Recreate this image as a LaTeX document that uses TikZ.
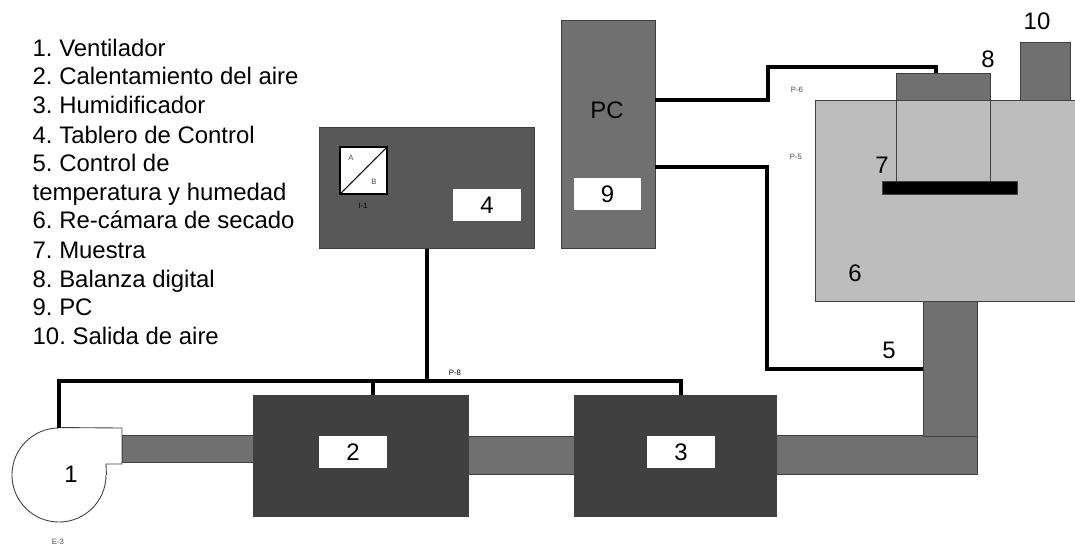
\documentclass[tikz,border=0pt]{standalone}
\usepackage{fontspec}
\setmainfont{Liberation Sans}
\frenchspacing
\usetikzlibrary{calc,positioning}
\tikzset{
  panel/.style={draw=black!75,line width=0.25pt,inner sep=0pt,anchor=north west},
  tag/.style={fill=white,inner sep=0pt,minimum width=0.67cm,minimum height=0.32cm,font=\fontsize{6.8}{8}\selectfont},
  num/.style={inner sep=0pt,font=\fontsize{6.8}{8}\selectfont},
  tiny/.style={inner sep=0pt,text=black!70,font=\fontsize{2.2}{3}\selectfont},
  wire/.style={line width=1pt,line join=miter},
  thin line/.style={draw=black!75,line width=0.25pt}
}
\definecolor{duct}{gray}{0.44}
\definecolor{heater}{gray}{0.25}
\definecolor{board}{gray}{0.345}
\definecolor{chamber}{gray}{0.74}
\begin{document}
\begin{tikzpicture}[x=0.01cm,y=-0.01cm]
  \useasboundingbox (0,0) rectangle (1075,548);
  % legend
  \foreach \y/\name in {56/1. Ventilador, 84/2. Calentamiento del aire, 113/3. Humidificador,
      143/4. Tablero de Control, 171/5. Control de, 200/temperatura y humedad,
      228/6. Re-cámara de secado, 258/7. Muestra, 287/8. Balanza digital, 315/9. PC,
      344/10. Salida de aire} {
    \node[num,anchor=base west] at (32,\y) {\name};
  }
  % ducts
  \node[panel,fill=duct,minimum width=1.31cm,minimum height=0.27cm] (ductA) at (122,435) {};
  \node[panel,fill=duct,minimum width=1.06cm,minimum height=0.38cm] (ductB) at (468,436) {};
  \node[panel,fill=duct,minimum width=2.01cm,minimum height=0.39cm] (ductC) at (776,435) {};
  \node[panel,fill=duct,minimum width=0.54cm,minimum height=1.35cm] (riser) at (923,301) {};
  % chamber with balance and outlet
  \node[panel,fill=duct,minimum width=0.94cm,minimum height=0.27cm] (balance) at (896,73) {};
  \node[panel,fill=duct,minimum width=0.50cm,minimum height=0.58cm] (outlet) at (1020,42) {};
  \node[panel,fill=chamber,minimum width=2.60cm,minimum height=2.01cm] (camara) at (815,100) {};
  \node[panel,fill=black,minimum width=1.35cm,minimum height=0.13cm] (muestra) at (882,181) {};
  \draw[thin line] (896,100) -- (896,181);
  \draw[thin line] (990,100) -- (990,181);
  % heater, humidifier
  \node[panel,fill=heater,minimum width=2.15cm,minimum height=1.21cm] (calor) at (253,395) {};
  \node[panel,fill=heater,minimum width=2.02cm,minimum height=1.21cm] (humid) at (574,395) {};
  \node[tag] (tagA) at (353,452) {2};
  \node[tag] (tagB) at (681,452) {3};
  % control board
  \node[panel,fill=board,minimum width=2.15cm,minimum height=1.21cm] (tablero) at (319,127) {};
  \node[tag] (tagC) at (487,205) {4};
  \node[draw=black,line width=0.3pt,fill=white,inner sep=0pt,minimum size=0.47cm] (ind) at (363.5,170.5) {};
  \draw[line width=0.3pt] (ind.south west) -- (ind.north east);
  \node[tiny] (indA) at (351,158) {A};
  \node[tiny] (indB) at (374,182) {B};
  \node[tiny,text=black] (indC) at (363,206) {I-1};
  % PC
  \node[panel,fill=duct,minimum width=0.94cm,minimum height=2.28cm] (pc) at (561,20) {};
  \node[num] (pcname) at (607,110) {PC};
  \node[tag] (tagD) at (607.5,194) {9};
  % fan
  \node[circle,draw=black!75,line width=0.25pt,fill=white,inner sep=0pt,minimum size=0.94cm] (fan) at (59,475) {};
  \fill[white] (fan.north) -- (122,428) -- (122,464) -- (106,464) -- (fan.east) -- (fan.center) -- cycle;
  \draw[thin line] (fan.north) -- (122,428) -- (122,464) -- (106,464) -- (fan.east);
  \node[num] (one) at (71,474) {1};
  % wiring
  \coordinate (bus) at (427,381);
  \coordinate (heatIn) at (373,395);
  \coordinate (humidIn) at (681,395);
  \coordinate (pcA) at (655,100);
  \coordinate (pcB) at (655,167);
  \coordinate (scaleIn) at (936,73);
  \coordinate (riserIn) at (923,369);
  \draw[wire] (tablero.south) -- (bus);
  \draw[wire] (fan.north) |- (bus) -| (humidIn);
  \draw[wire] (heatIn) -- (373,381);
  \draw[wire] (pcA) -- (768,100) -- (768,67) -- (936,67) -- (scaleIn);
  \draw[wire] (pcB) -- (767,167) -- (767,369) -- (riserIn);
  % free labels
  \node[num] (five) at (889,350) {5};
  \node[num] (six) at (855,273) {6};
  \node[num] (seven) at (882,165) {7};
  \node[num] (eight) at (988,59) {8};
  \node[num] (ten) at (1037,21) {10};
  \node[tiny] (psix) at (797,90) {P-6};
  \node[tiny] (pfive) at (796,157) {P-5};
  \node[tiny,text=black] (peight) at (455,373) {P-8};
  \node[tiny] (ethree) at (58,542) {E-3};
\end{tikzpicture}
\end{document}
